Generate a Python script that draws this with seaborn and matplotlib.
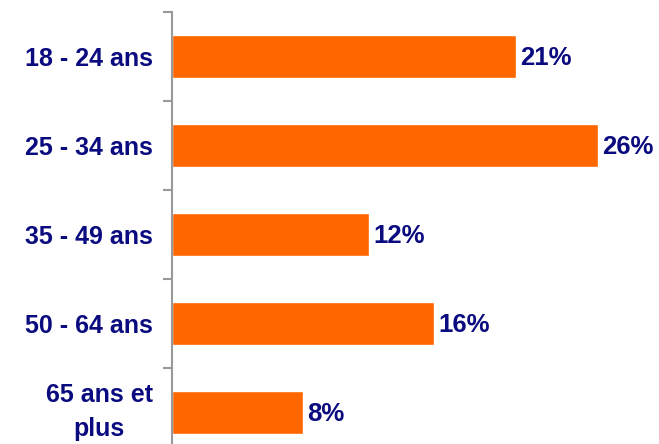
import matplotlib
matplotlib.use("Agg")
import matplotlib.pyplot as plt
import seaborn as sns
import pandas as pd
import numpy as np

categories = ["18 - 24 ans", "25 - 34 ans", "35 - 49 ans", "50 - 64 ans", "65 ans et\nplus"]
values = [21, 26, 12, 16, 8]
value_labels = ["21%", "26%", "12%", "16%", "8%"]

sns.set_style("white")
plt.rcParams['font.family'] = ['Liberation Sans', 'DejaVu Sans']

navy = "#0B0B80"
orange = "#FF6600"

df = pd.DataFrame({"cat": categories, "val": values})

fig = plt.figure(figsize=(6.59, 4.44), dpi=100)
ax = fig.add_axes([172/659, -13/444, (659-172)/659, 445/444])

sns.barplot(data=df, y="cat", x="val", orient="h", color=orange, width=0.48,
            saturation=1, ax=ax)

px_per_unit = 16.4
ax.set_xlim(0, (659-172)/px_per_unit)
ax.set_ylim(len(categories)-0.5, -0.5)

for i, (v, lab) in enumerate(zip(values, value_labels)):
    ax.text(v + 0.25, i + 0.02, lab, va="center", ha="left", fontsize=18.5,
            fontweight="bold", color=navy)

for s in ["top", "right", "bottom"]:
    ax.spines[s].set_visible(False)
ax.spines["left"].set_color("#999999")
ax.spines["left"].set_linewidth(1.5)

ax.set_xticks([])
ax.set_xlabel("")
ax.set_ylabel("")
ax.set_yticks(range(len(categories)))
tick_texts = categories[:-1] + [""]
ax.set_yticklabels(tick_texts, fontsize=18, fontweight="bold", color=navy)
ax.tick_params(axis="y", which="major", length=0, pad=14)
ax.set_yticks(np.arange(-0.5, len(categories), 1), minor=True)
ax.tick_params(axis="y", which="minor", length=6.5, width=1.5, color="#999999", left=True)

# last category label (two lines)
ax.annotate(categories[-1], xy=(0, len(categories) - 1),
            xycoords=ax.get_yaxis_transform(), xytext=(-14, 0.5),
            textcoords="offset points", ha="right", va="center",
            multialignment="center", linespacing=1.5,
            fontsize=18, fontweight="bold", color=navy)

fig.savefig("out.png", dpi=100)
